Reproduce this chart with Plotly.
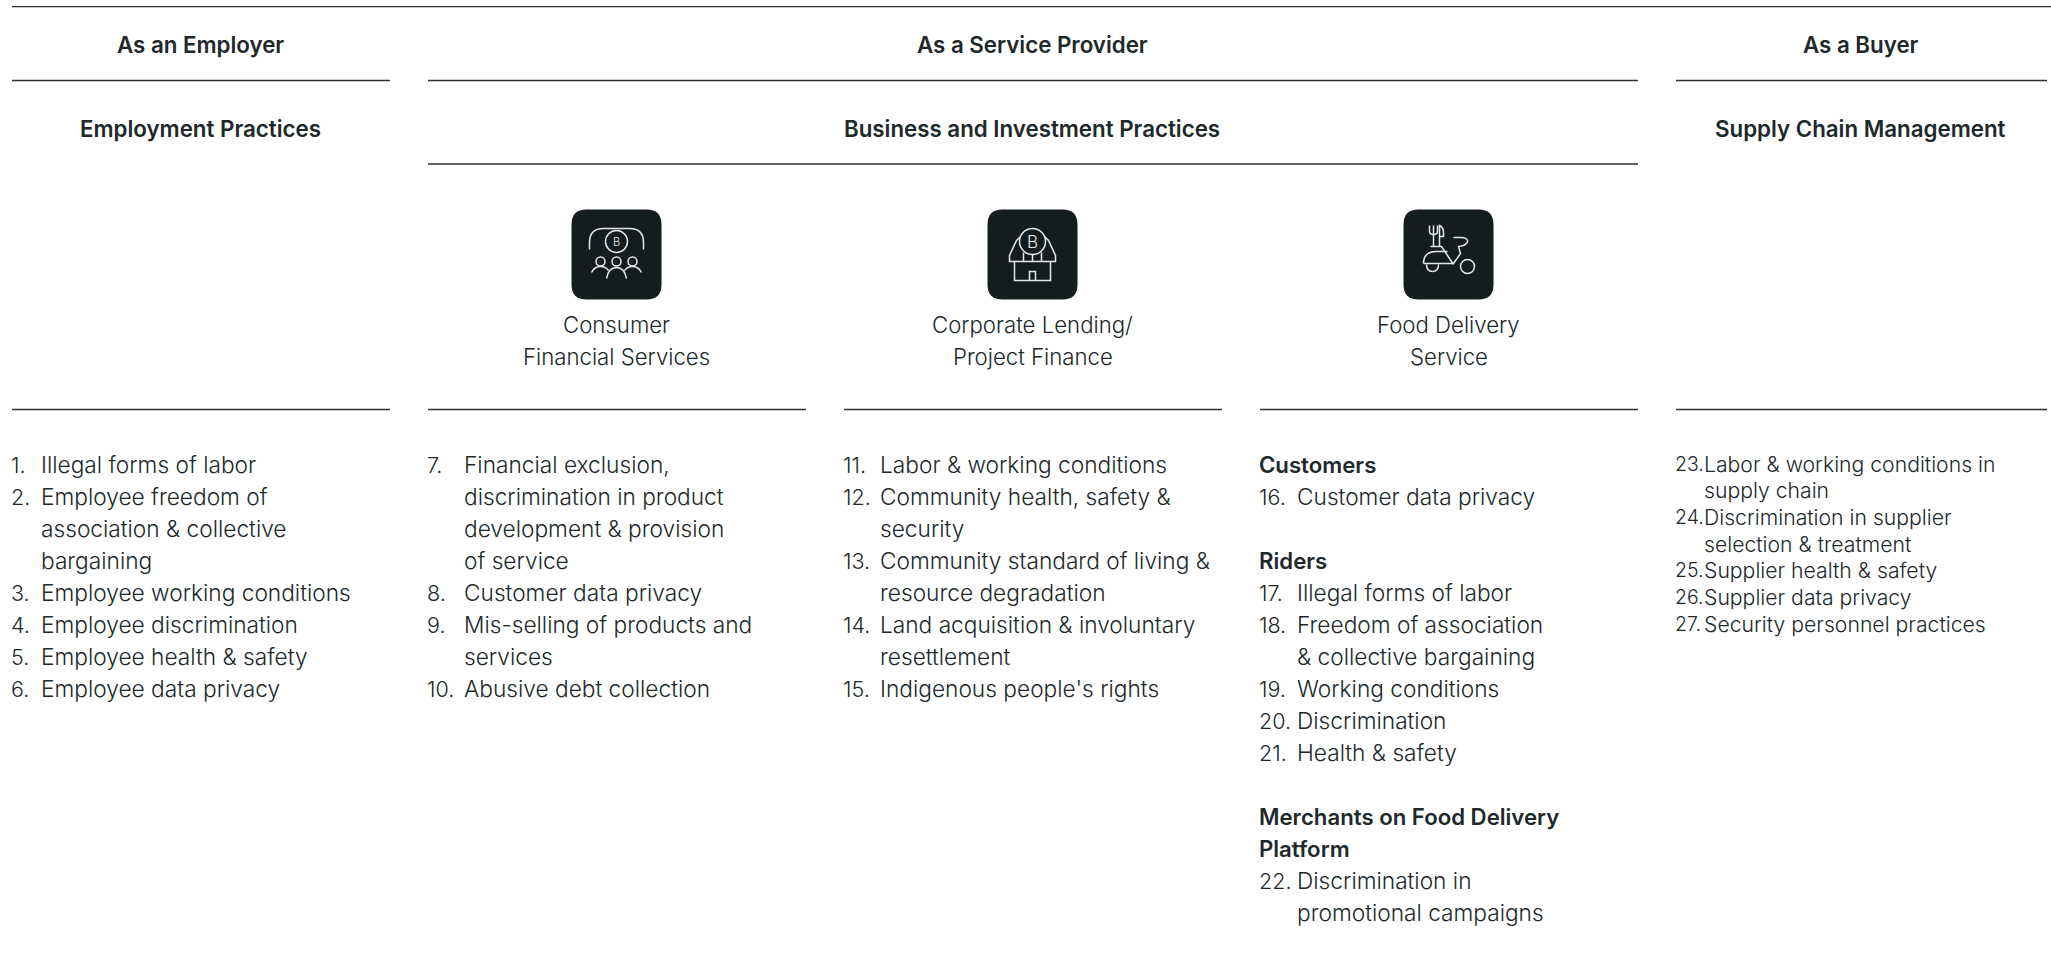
import plotly.graph_objects as go

FONT = "Inter"
INK = "#20282a"
LINE = "#2a3032"
TILE = "#151c1e"
STROKE = "#e6e8e8"

top_headers = ["As an Employer", "As a Service Provider", "As a Buyer"]
sub_headers = ["Employment Practices", "Business and Investment Practices", "Supply Chain Management"]
segments = [["Consumer", "Financial Services"], ["Corporate Lending/", "Project Finance"], ["Food Delivery", "Service"]]

employer_items = [
    ("1.", ["Illegal forms of labor"]),
    ("2.", ["Employee freedom of", "association & collective", "bargaining"]),
    ("3.", ["Employee working conditions"]),
    ("4.", ["Employee discrimination"]),
    ("5.", ["Employee health & safety"]),
    ("6.", ["Employee data privacy"]),
]
consumer_items = [
    ("7.", ["Financial exclusion,", "discrimination in product", "development & provision", "of service"]),
    ("8.", ["Customer data privacy"]),
    ("9.", ["Mis-selling of products and", "services"]),
    ("10.", ["Abusive debt collection"]),
]
corporate_items = [
    ("11.", ["Labor & working conditions"]),
    ("12.", ["Community health, safety &", "security"]),
    ("13.", ["Community standard of living &", "resource degradation"]),
    ("14.", ["Land acquisition & involuntary", "resettlement"]),
    ("15.", ["Indigenous people's rights"]),
]
delivery_items = [
    ("H", ["Customers"]),
    ("16.", ["Customer data privacy"]),
    ("", [""]),
    ("H", ["Riders"]),
    ("17.", ["Illegal forms of labor"]),
    ("18.", ["Freedom of association", "& collective bargaining"]),
    ("19.", ["Working conditions"]),
    ("20.", ["Discrimination"]),
    ("21.", ["Health & safety"]),
    ("", [""]),
    ("H", ["Merchants on Food Delivery", "Platform"]),
    ("22.", ["Discrimination in", "promotional campaigns"]),
]
buyer_items = [
    ("23.", ["Labor & working conditions in", "supply chain"]),
    ("24.", ["Discrimination in supplier", "selection & treatment"]),
    ("25.", ["Supplier health & safety"]),
    ("26.", ["Supplier data privacy"]),
    ("27.", ["Security personnel practices"]),
]

# ---- layout geometry (pixels) ----
W, H = 2051, 959
cols = [(12, 390), (428, 806), (844, 1222), (1260, 1638), (1676, 2047)]
shapes, ann = [], []


def rule(x0, x1, y):
    shapes.append(dict(type="line", x0=x0, x1=x1, y0=y, y1=y, line=dict(color=LINE, width=1.3)))


def label(x, y, text, size=20, weight=400, anchor="left"):
    ann.append(dict(x=x, y=y, text=text, xref="x", yref="y", showarrow=False, xanchor=anchor, yanchor="middle",
                    align=anchor, font=dict(family=FONT, size=size, color=INK, weight=weight)))


rule(12, 2051, 6.7)
for y in (80.5,):
    rule(cols[0][0], cols[0][1], y)
    rule(cols[1][0], cols[3][1], y)
    rule(cols[4][0], cols[4][1], y)
rule(cols[1][0], cols[3][1], 164)
for c in cols:
    rule(c[0], c[1], 409.5)

header_x = [200.5, 1032, 1860.5]
for x, a, b in zip(header_x, top_headers, sub_headers):
    label(x, 44.5, a, 22.3, 600, "center")
    label(x, 128.5, b, 22.3, 600, "center")

seg_x = [616.5, 1032.5, 1448.5]
for x, s in zip(seg_x, segments):
    label(x, 324.5, s[0], 22.2, 300, "center")
    label(x, 356.5, s[1], 22.2, 300, "center")


def write_list(items, xn, xt, y0, step, size, num_size):
    y = y0
    for num, lines in items:
        for i, t in enumerate(lines):
            if num == "H":
                label(xn, y, t, 22.2, 600)
            elif t:
                if i == 0:
                    label(xn, y, num, num_size, 300)
                label(xt, y, t, size, 300)
            y += step


write_list(employer_items, 9.4, 39.4, 464.5, 32, 22.7, 21.5)
write_list(consumer_items, 425.4, 462.4, 464.5, 32, 22.7, 21.5)
write_list(corporate_items, 841.4, 878.4, 464.5, 32, 22.7, 21.5)
write_list(delivery_items, 1257.4, 1295, 464.5, 32, 22.7, 21.5)
write_list(buyer_items, 1673.4, 1702.4, 463.5, 26.7, 21.2, 19.5)


# ---- icons ----
def P(cx, cy, segs, close=False):
    out = []
    for cmd, pts in segs:
        out.append(cmd + " ".join(f"{cx + x:.2f},{cy + y:.2f}" for x, y in pts))
    return " ".join(out) + (" Z" if close else "")


def stroke(path, fill=None, width=1.5):
    shapes.append(dict(type="path", path=path, line=dict(color=STROKE, width=width),
                       fillcolor=fill if fill else "rgba(0,0,0,0)"))


def circle(cx, cy, x, y, r):
    k = 0.5523 * r
    stroke(P(cx, cy, [("M", [(x + r, y)]),
                      ("C", [(x + r, y + k), (x + k, y + r), (x, y + r)]),
                      ("C", [(x - k, y + r), (x - r, y + k), (x - r, y)]),
                      ("C", [(x - r, y - k), (x - k, y - r), (x, y - r)]),
                      ("C", [(x + k, y - r), (x + r, y - k), (x + r, y)])], True))


icon_y = 254.5
for x in seg_x:
    r, h = 15, 45
    shapes.append(dict(type="path", line=dict(width=0), fillcolor=TILE, path=P(x, icon_y, [
        ("M", [(-h + r, -h)]), ("L", [(h - r, -h)]), ("Q", [(h, -h), (h, -h + r)]),
        ("L", [(h, h - r)]), ("Q", [(h, h), (h - r, h)]), ("L", [(-h + r, h)]),
        ("Q", [(-h, h), (-h, h - r)]), ("L", [(-h, -h + r)]), ("Q", [(-h, -h), (-h + r, -h)])], True)))

# consumer icon
x = seg_x[0]
stroke(P(x, icon_y, [("M", [(-27, -5)]), ("L", [(-27, -12)]), ("Q", [(-27, -26), (-13, -26)]), ("L", [(13, -26)]),
                     ("Q", [(27, -26), (27, -12)]), ("L", [(27, -5)])]))
circle(x, icon_y, 0, -13, 11)
for hx in (-16, 0, 16):
    circle(x, icon_y, hx, 7, 4.5)
stroke(P(x, icon_y, [("M", [(-10, 24)]), ("Q", [(-8, 13), (0, 13)]), ("Q", [(8, 13), (10, 24)])]))
stroke(P(x, icon_y, [("M", [(-25, 18)]), ("Q", [(-22, 12), (-16, 12)]), ("Q", [(-11, 12), (-8, 16)])]))
stroke(P(x, icon_y, [("M", [(25, 18)]), ("Q", [(22, 12), (16, 12)]), ("Q", [(11, 12), (8, 16)])]))
label(x, icon_y - 13, "B", 11, 300, "center")
ann[-1]["font"]["color"] = STROKE

# corporate icon
x = seg_x[1]
circle(x, icon_y, 0, -13, 13)
stroke(P(x, icon_y, [("M", [(-12, -18)]), ("L", [(-16, -14)]), ("L", [(-23, 1)]), ("L", [(-23, 7)]), ("L", [(23, 7)]),
                     ("L", [(23, 1)]), ("L", [(16, -14)]), ("L", [(12, -18)])]))
stroke(P(x, icon_y, [("M", [(-18, 7)]), ("L", [(-18, 26)]), ("L", [(18, 26)]), ("L", [(18, 7)])]))
stroke(P(x, icon_y, [("M", [(-3, 26)]), ("L", [(-3, 17)]), ("L", [(3, 17)]), ("L", [(3, 26)])]))
stroke(P(x, icon_y, [("M", [(-9, -2)]), ("L", [(-9, 7)])]))
stroke(P(x, icon_y, [("M", [(9, -2)]), ("L", [(9, 7)])]))
stroke(P(x, icon_y, [("M", [(0, 0)]), ("L", [(0, 7)])]))
label(x, icon_y - 13, "B", 17, 300, "center")
ann[-1]["font"]["color"] = STROKE

# delivery icon
x = seg_x[2]
stroke(P(x, icon_y, [("M", [(-19, -29)]), ("L", [(-19, -23)]), ("Q", [(-19, -20), (-15, -20)]), ("Q", [(-11, -20), (-11, -23)]),
                     ("L", [(-11, -29)])]))
stroke(P(x, icon_y, [("M", [(-15, -29)]), ("L", [(-15, -8)])]))
stroke(P(x, icon_y, [("M", [(-9, -8)]), ("L", [(-9, -29)]), ("Q", [(-5, -27), (-5, -22)]), ("L", [(-5, -18)]), ("L", [(-9, -18)])]))
stroke(P(x, icon_y, [("M", [(-18, -8)]), ("L", [(-7, -8)]), ("L", [(5, 10)])]))
stroke(P(x, icon_y, [("M", [(-25, 9)]), ("Q", [(-25, -3), (-12, -3)]), ("L", [(-1, -3)])]))
stroke(P(x, icon_y, [("M", [(-25, 9)]), ("L", [(5, 9)])]))
stroke(P(x, icon_y, [("M", [(-22, 10)]), ("Q", [(-22, 17), (-16, 17)]), ("Q", [(-10, 17), (-10, 10)])]))
stroke(P(x, icon_y, [("M", [(5, 9)]), ("L", [(12, -1)]), ("L", [(10, -8)]), ("L", [(15, -9)]), ("Q", [(20, -12), (19, -14)]),
                     ("Q", [(18, -17), (13, -17)]), ("L", [(5, -17)])]))
circle(x, icon_y, 19, 12, 7)

fig = go.Figure()
fig.update_layout(
    width=W, height=H, margin=dict(l=0, r=0, t=0, b=0), paper_bgcolor="white", plot_bgcolor="white",
    xaxis=dict(range=[0, W], visible=False, fixedrange=True),
    yaxis=dict(range=[H, 0], visible=False, fixedrange=True),
    shapes=shapes, annotations=ann, showlegend=False,
)
fig.write_html("out.html", config=dict(displayModeBar=False),
               post_script="document.body.style.margin='0';document.body.style.overflow='hidden';")
